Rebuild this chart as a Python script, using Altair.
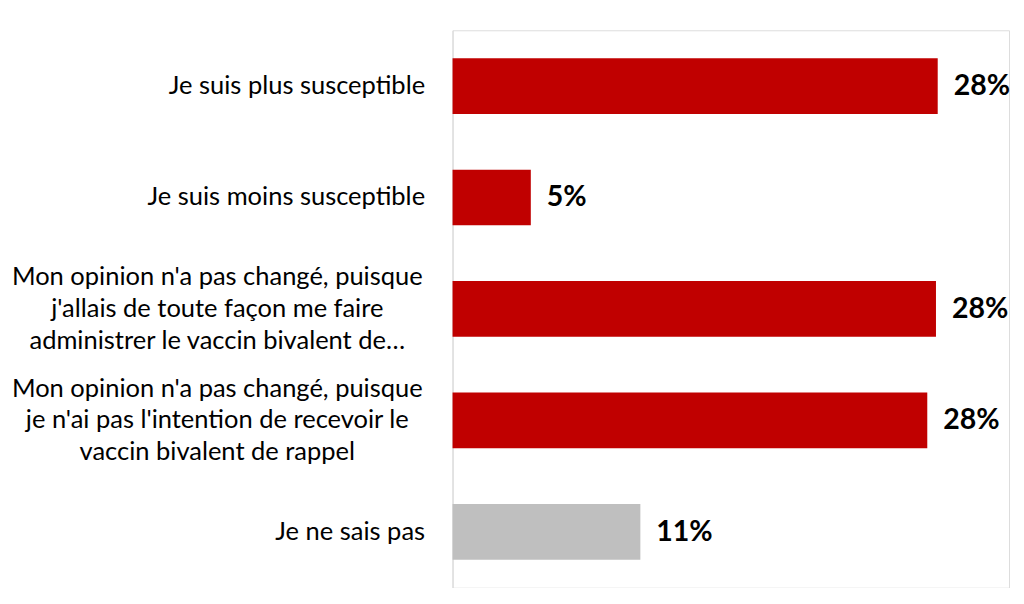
import altair as alt
import pandas as pd

categories = [
    "Je suis plus susceptible",
    "Je suis moins susceptible",
    "Mon opinion n'a pas changé, puisque\nj'allais de toute façon me faire\nadministrer le vaccin bivalent de…",
    "Mon opinion n'a pas changé, puisque\nje n'ai pas l'intention de recevoir le\nvaccin bivalent de rappel",
    "Je ne sais pas",
]
values = [27.9, 4.5, 27.8, 27.3, 10.8]
value_labels = ["28%", "5%", "28%", "28%", "11%"]

df = pd.DataFrame({"category": categories, "value": values, "label": value_labels})

FONT = "Lato"
RED = "#C00000"
GRAY = "#BFBFBF"
MULTI = "indexof(datum.value, 'Mon opinion') == 0"

y_enc = alt.Y(
    "category:N",
    sort=categories,
    title=None,
    scale=alt.Scale(paddingInner=0.5, paddingOuter=0.25),
    axis=alt.Axis(
        labelExpr="split(datum.label, '\\n')",
        labelFont=FONT,
        labelFontSize=25.5,
        labelColor="#000000",
        labelLineHeight=32,
        labelLimit=0,
        ticks=False,
        domainColor="#D9D9D9",
        domainWidth=1,
        minExtent=445,
        maxExtent=445,
        labelAlign={"condition": {"test": MULTI, "value": "center"}, "value": "right"},
        labelPadding={"condition": {"test": MULTI, "value": 236}, "value": 28},
        labelOffset={"condition": {"test": MULTI, "value": -32}, "value": 0},
    ),
)

x_enc = alt.X("value:Q", scale=alt.Scale(domain=[0, 32], nice=False), axis=None)

bars = alt.Chart(df).mark_bar().encode(
    y=y_enc,
    x=x_enc,
    color=alt.condition(alt.datum.category == "Je ne sais pas", alt.value(GRAY), alt.value(RED)),
)

texts = alt.Chart(df).mark_text(
    align="left", baseline="middle", dx=16, font=FONT, fontSize=28.5, fontWeight="bold", color="#000000"
).encode(y=alt.Y("category:N", sort=categories), x=x_enc, text="label:N")

chart = (
    alt.layer(bars, texts)
    .properties(width=557, height=558, padding={"left": 0, "top": 22, "right": 5, "bottom": 0})
    .configure_view(stroke=None)
    .configure(background="white")
)

chart.save("out.html", embed_options={"renderer": "svg", "actions": False})
